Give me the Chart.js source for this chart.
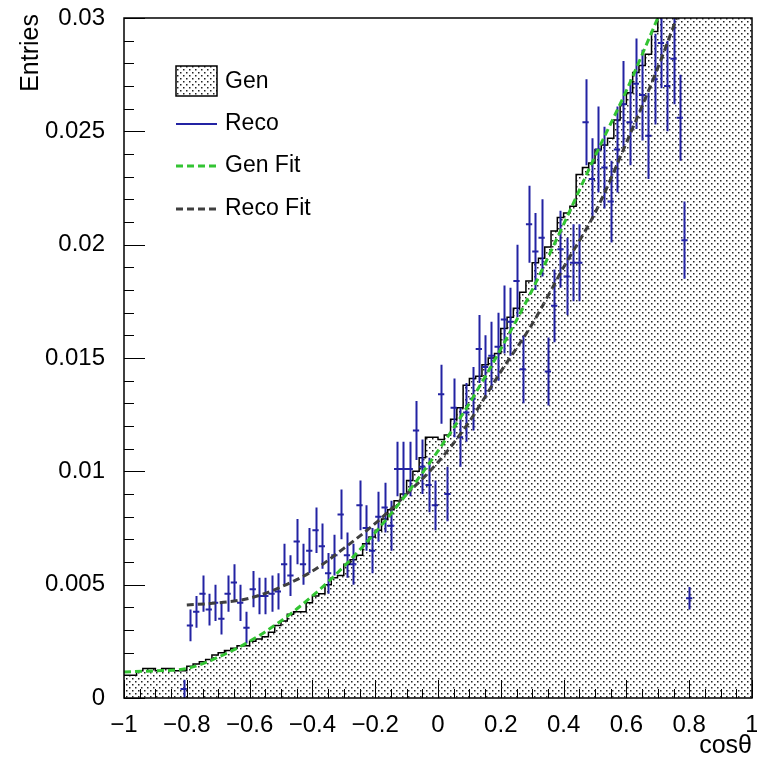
<!DOCTYPE html>
<html>
<head>
<meta charset="utf-8">
<script src="https://cdn.jsdelivr.net/npm/chart.js@4.4.1/dist/chart.umd.min.js"></script>
<style>
    html, body { margin: 0; padding: 0; background: #fff; }
    #wrap { width: 757px; height: 760px; }
</style>
</head>
<body>
<div id="wrap"><canvas id="plot" width="757" height="760"></canvas></div>
<script>
// Gen histogram, 100 bins of width 0.02 from -1 to 1
const genValues = [
    0.0010, 0.0010, 0.0012, 0.0013, 0.0013, 0.0012, 0.0013, 0.0013, 0.0012, 0.0012,
    0.0014, 0.0015, 0.0016, 0.0017, 0.0019, 0.0020, 0.0021, 0.0022, 0.0023, 0.0023,
    0.0025, 0.0026, 0.0027, 0.0029, 0.0032, 0.0034, 0.0037, 0.0038, 0.0038, 0.0042,
    0.0045, 0.0046, 0.0050, 0.0053, 0.0054, 0.0059, 0.0061, 0.0063, 0.0068, 0.0071,
    0.0074, 0.0079, 0.0083, 0.0087, 0.0090, 0.0096, 0.0100, 0.0106, 0.0115, 0.0115,
    0.0114, 0.0116, 0.0123, 0.0128, 0.0138, 0.0141, 0.0142, 0.0147, 0.0150, 0.0152,
    0.0163, 0.0168, 0.0172, 0.0179, 0.0184, 0.0192, 0.0194, 0.0199, 0.0206, 0.0212,
    0.0214, 0.0217, 0.0231, 0.0234, 0.0236, 0.0242, 0.0244, 0.0247, 0.0255, 0.0262,
    0.0267, 0.0276, 0.0279, 0.0284, 0.0294, 0.0310, 0.0315, 0.0322, 0.0328, 0.0335,
    0.0341, 0.0348, 0.0355, 0.0361, 0.0368, 0.0375, 0.0382, 0.0389, 0.0396, 0.0403
];
const genLow = -1;
const genBinWidth = 0.02;

// Reco points with errors
const recoX = [
    -0.81, -0.79, -0.77, -0.75, -0.73, -0.71, -0.69, -0.67, -0.65, -0.63,
    -0.61, -0.59, -0.57, -0.55, -0.53, -0.51, -0.49, -0.47, -0.45, -0.43,
    -0.41, -0.39, -0.37, -0.35, -0.33, -0.31, -0.29, -0.27, -0.25, -0.23,
    -0.21, -0.19, -0.17, -0.15, -0.13, -0.11, -0.09, -0.07, -0.05, -0.03,
    -0.01, 0.01, 0.03, 0.05, 0.07, 0.09, 0.11, 0.13, 0.15, 0.17,
    0.19, 0.21, 0.23, 0.25, 0.27, 0.29, 0.31, 0.33, 0.35, 0.37,
    0.39, 0.41, 0.43, 0.45, 0.47, 0.49, 0.51, 0.53, 0.55, 0.57,
    0.59, 0.61, 0.63, 0.65, 0.67, 0.69, 0.71, 0.73, 0.75, 0.77,
    0.785, 0.80
];
const recoY = [
    0.0004, 0.0032, 0.0038, 0.0046, 0.0039, 0.0042, 0.0035, 0.0046, 0.0051, 0.0042,
    0.0031, 0.0048, 0.0045, 0.0045, 0.0046, 0.0047, 0.0059, 0.0054, 0.0069, 0.0059,
    0.0065, 0.0074, 0.0067, 0.0055, 0.0063, 0.0081, 0.0063, 0.0059, 0.0085, 0.0075,
    0.0065, 0.0080, 0.0084, 0.0076, 0.0101, 0.0101, 0.0101, 0.0118, 0.0102, 0.0094,
    0.0085, 0.0134, 0.0090, 0.0128, 0.0115, 0.0126, 0.0132, 0.0154, 0.0146, 0.0151,
    0.0155, 0.0167, 0.0166, 0.0184, 0.0145, 0.0209, 0.0197, 0.0203, 0.0144, 0.0173,
    0.0198, 0.0186, 0.0192, 0.0192, 0.0254, 0.0229, 0.0242, 0.0234, 0.0219, 0.0242,
    0.0262, 0.0254, 0.0271, 0.0266, 0.0248, 0.0273, 0.0289, 0.0270, 0.0282, 0.0256,
    0.0202, 0.0044
];
const recoErr = [
    0.0004, 0.0007, 0.0007, 0.0008, 0.0007, 0.0008, 0.0007, 0.0008, 0.0008, 0.0008,
    0.0007, 0.0008, 0.0008, 0.0008, 0.0008, 0.0008, 0.0009, 0.0009, 0.0010, 0.0009,
    0.0010, 0.0010, 0.0010, 0.0009, 0.0009, 0.0011, 0.0010, 0.0009, 0.0011, 0.0010,
    0.0010, 0.0011, 0.0011, 0.0011, 0.0012, 0.0012, 0.0012, 0.0013, 0.0012, 0.0012,
    0.0011, 0.0013, 0.0012, 0.0013, 0.0013, 0.0013, 0.0014, 0.0015, 0.0014, 0.0015,
    0.0015, 0.0015, 0.0015, 0.0016, 0.0015, 0.0017, 0.0017, 0.0017, 0.0015, 0.0016,
    0.0017, 0.0017, 0.0017, 0.0017, 0.0019, 0.0018, 0.0019, 0.0018, 0.0018, 0.0019,
    0.0019, 0.0019, 0.0020, 0.0020, 0.0019, 0.0020, 0.0020, 0.0020, 0.0020, 0.0019,
    0.0017, 0.0005
];
const recoHalfWidth = 0.01;

// fit curves
const genFitX = [-1, -0.9, -0.8, -0.7, -0.6, -0.5, -0.4, -0.3, -0.2, -0.1, 0, 0.1, 0.2, 0.3, 0.4, 0.5, 0.6, 0.7];
const genFitY = [0.00115, 0.0012, 0.0013, 0.0018, 0.0025, 0.0034, 0.0045, 0.0058, 0.0073, 0.0090, 0.0109, 0.0130, 0.0154, 0.0180, 0.0209, 0.0239, 0.0268, 0.0300];
const recoFitX = [-0.8, -0.7, -0.6, -0.5, -0.4, -0.3, -0.2, -0.1, 0, 0.1, 0.2, 0.3, 0.4, 0.5, 0.6, 0.7, 0.76];
const recoFitY = [0.0041, 0.0042, 0.0044, 0.0049, 0.0056, 0.0066, 0.0077, 0.0090, 0.0104, 0.0122, 0.0144, 0.0165, 0.0190, 0.0214, 0.0245, 0.0278, 0.0300];

// axes
const xTickValues = [-1, -0.8, -0.6, -0.4, -0.2, 0, 0.2, 0.4, 0.6, 0.8, 1];
const xTickLabels = ['\u22121', '\u22120.8', '\u22120.6', '\u22120.4', '\u22120.2', '0', '0.2', '0.4', '0.6', '0.8', '1'];
const yTickValues = [0, 0.005, 0.01, 0.015, 0.02, 0.025, 0.03];
const yTickLabels = ['0', '0.005', '0.01', '0.015', '0.02', '0.025', '0.03'];
const xMinorStep = 0.05;
const yMinorStep = 0.001;

const FONT = "'Liberation Sans', Arial, Helvetica, sans-serif";
const BLUE = '#2323a3';
const GREEN = '#33c433';
const GREY = '#3f3f3f';

function makeDots() {
    const c = document.createElement('canvas');
    c.width = 6;
    c.height = 6;
    const g = c.getContext('2d');
    g.fillStyle = '#fff';
    g.fillRect(0, 0, 6, 6);
    g.fillStyle = '#222';
    g.fillRect(0, 0, 1.5, 1.5);
    g.fillRect(3, 3, 1.5, 1.5);
    return g.createPattern(c, 'repeat');
}
const dots = makeDots();

function genSteps() {
    const pts = genValues.map((v, i) => ({ x: genLow + i * genBinWidth, y: v }));
    pts.push({ x: genLow + genValues.length * genBinWidth, y: genValues[genValues.length - 1] });
    return pts;
}

const rootStyle = {
    id: 'rootStyle',
    afterDatasetDraw(chart, args) {
        if (args.index !== 1) return;
        const ctx = chart.ctx;
        const xs = chart.scales.x, ys = chart.scales.y;
        const a = chart.chartArea;
        ctx.save();
        ctx.beginPath();
        ctx.rect(a.left, a.top, a.right - a.left, a.bottom - a.top);
        ctx.clip();
        ctx.strokeStyle = BLUE;
        ctx.lineWidth = 2;
        ctx.beginPath();
        recoX.forEach((x, i) => {
            const px = Math.round(xs.getPixelForValue(x)) + 0.5;
            const py = ys.getPixelForValue(recoY[i]);
            ctx.moveTo(px, ys.getPixelForValue(recoY[i] - recoErr[i]));
            ctx.lineTo(px, ys.getPixelForValue(recoY[i] + recoErr[i]));
            ctx.moveTo(xs.getPixelForValue(x - recoHalfWidth), py);
            ctx.lineTo(xs.getPixelForValue(x + recoHalfWidth), py);
        });
        ctx.stroke();
        ctx.restore();
    },
    afterDraw(chart) {
        const ctx = chart.ctx;
        const xs = chart.scales.x, ys = chart.scales.y;
        const a = chart.chartArea;
        ctx.save();

        // ticks inside the frame
        ctx.strokeStyle = '#000';
        ctx.lineWidth = 1;
        ctx.beginPath();
        for (let v = 0; v <= 0.03 + 1e-9; v += yMinorStep) {
            const major = yTickValues.some(t => Math.abs(t - v) < 1e-9);
            const py = Math.round(ys.getPixelForValue(v)) + 0.5;
            ctx.moveTo(a.left, py);
            ctx.lineTo(a.left + (major ? 21 : 10), py);
        }
        for (let v = -1; v <= 1 + 1e-9; v += xMinorStep) {
            const major = xTickValues.some(t => Math.abs(t - v) < 1e-9);
            const px = Math.round(xs.getPixelForValue(v)) + 0.5;
            ctx.moveTo(px, a.bottom);
            ctx.lineTo(px, a.bottom - (major ? 18 : 9));
        }
        ctx.stroke();

        // frame
        ctx.lineWidth = 1.5;
        ctx.strokeRect(a.left, a.top, a.right - a.left, a.bottom - a.top);

        // axis titles
        ctx.fillStyle = '#000';
        ctx.font = '25px ' + FONT;
        ctx.textAlign = 'right';
        ctx.textBaseline = 'alphabetic';
        ctx.fillText('cos\u03b8', a.right, 753);
        ctx.save();
        ctx.translate(38, a.top - 4);
        ctx.rotate(-Math.PI / 2);
        ctx.fillText('Entries', 0, 0);
        ctx.restore();

        // legend
        const lx = 176, lw = 41, tx = 225;
        ctx.fillStyle = dots;
        ctx.fillRect(lx, 66, lw, 30);
        ctx.lineWidth = 1.5;
        ctx.strokeStyle = '#000';
        ctx.strokeRect(lx, 66, lw, 30);

        ctx.lineWidth = 2;
        ctx.strokeStyle = BLUE;
        ctx.beginPath();
        ctx.moveTo(lx, 124);
        ctx.lineTo(lx + lw, 124);
        ctx.stroke();

        ctx.lineWidth = 3;
        ctx.setLineDash([7, 4]);
        ctx.strokeStyle = GREEN;
        ctx.beginPath();
        ctx.moveTo(lx, 166);
        ctx.lineTo(lx + lw, 166);
        ctx.stroke();
        ctx.strokeStyle = GREY;
        ctx.beginPath();
        ctx.moveTo(lx, 209);
        ctx.lineTo(lx + lw, 209);
        ctx.stroke();
        ctx.setLineDash([]);

        ctx.fillStyle = '#000';
        ctx.font = '23px ' + FONT;
        ctx.textAlign = 'left';
        ctx.textBaseline = 'middle';
        ctx.fillText('Gen', tx, 82);
        ctx.fillText('Reco', tx, 124);
        ctx.fillText('Gen Fit', tx, 166);
        ctx.fillText('Reco Fit', tx, 209);
        ctx.restore();
    }
};

document.addEventListener('DOMContentLoaded', function() {
    const ctx = document.getElementById('plot').getContext('2d');
    window.plot = new Chart(ctx, {
        type: 'line',
        data: {
            datasets: [{
                label: 'Gen',
                data: genSteps(),
                stepped: 'before',
                borderColor: '#000',
                borderWidth: 1.5,
                backgroundColor: dots,
                fill: 'origin',
                pointRadius: 0,
                order: 5
            }, {
                label: 'Reco',
                data: recoX.map((x, i) => ({ x: x, y: recoY[i] })),
                showLine: false,
                pointRadius: 0,
                borderColor: BLUE,
                order: 4
            }, {
                label: 'Reco Fit',
                data: recoFitX.map((x, i) => ({ x: x, y: recoFitY[i] })),
                borderColor: GREY,
                borderWidth: 3,
                borderDash: [7, 4],
                cubicInterpolationMode: 'monotone',
                pointRadius: 0,
                fill: false,
                order: 3
            }, {
                label: 'Gen Fit',
                data: genFitX.map((x, i) => ({ x: x, y: genFitY[i] })),
                borderColor: GREEN,
                borderWidth: 3,
                borderDash: [7, 4],
                cubicInterpolationMode: 'monotone',
                pointRadius: 0,
                fill: false,
                order: 2
            }]
        },
        options: {
            responsive: false,
            animation: false,
            devicePixelRatio: 1,
            layout: { padding: { top: 18, right: 5, left: 0, bottom: 0 } },
            plugins: {
                legend: { display: false },
                tooltip: { enabled: false }
            },
            scales: {
                x: {
                    type: 'linear',
                    min: -1,
                    max: 1,
                    grid: { display: false },
                    border: { display: false },
                    afterBuildTicks: function(scale) {
                        scale.ticks = xTickValues.map(v => ({ value: v }));
                    },
                    afterFit: function(scale) {
                        scale.height = 62;
                        scale.paddingLeft = 0;
                        scale.paddingRight = 0;
                    },
                    ticks: {
                        autoSkip: false,
                        maxRotation: 0,
                        padding: 5,
                        color: '#000',
                        font: { size: 24, family: FONT },
                        callback: function(value, index) {
                            return xTickLabels[index];
                        }
                    }
                },
                y: {
                    type: 'linear',
                    min: 0,
                    max: 0.03,
                    grid: { display: false },
                    border: { display: false },
                    afterBuildTicks: function(scale) {
                        scale.ticks = yTickValues.map(v => ({ value: v }));
                    },
                    afterFit: function(scale) {
                        scale.width = 124;
                        scale.paddingTop = 0;
                        scale.paddingBottom = 0;
                    },
                    ticks: {
                        autoSkip: false,
                        padding: 11,
                        color: '#000',
                        font: { size: 24, family: FONT },
                        callback: function(value, index) {
                            return yTickLabels[index];
                        }
                    }
                }
            }
        },
        plugins: [rootStyle]
    });
});
</script>
</body>
</html>
